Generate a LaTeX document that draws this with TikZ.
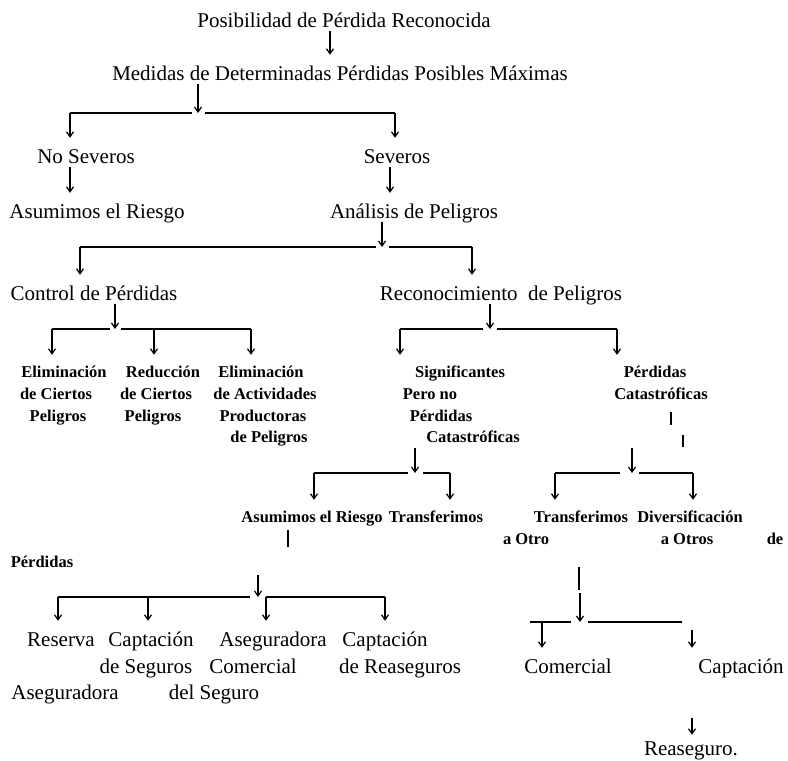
\documentclass[tikz,border=0pt]{standalone}
\usepackage{fontspec}
\setmainfont{Liberation Serif}
\usetikzlibrary{arrows.meta}
\tikzset{
	big/.style={font=\fontsize{21}{24}\selectfont,inner sep=0pt,anchor=base,text height=15pt,text depth=3pt},
	sml/.style={font=\fontsize{16.5}{19}\selectfont\bfseries,inner sep=0pt,anchor=base,text height=12pt,text depth=3pt},
	arr/.style={line width=1.2pt,-{Straight Barb[length=5pt,width=7pt]}},
	down/.style={arr,shorten <=1pt,shorten >=10pt},
	kid/.style={arr,shorten >=10pt},
	bar/.style={line width=1.5pt},
	tick/.style={line width=1.2pt}
}
\begin{document}
\begin{tikzpicture}[x=1pt,y=-1pt]
	\useasboundingbox (0,0) rectangle (788,761);

	\node[big] (tit) at (344,27) {Posibilidad de Pérdida Reconocida};
	\node[big] (med) at (340,80) {Medidas de Determinadas Pérdidas Posibles Máximas};
	\node[big] (nosev) at (86,163) {No Severos};
	\node[big] (sev) at (397,163) {Severos};
	\node[big] (asum) at (97,218) {Asumimos el Riesgo};
	\node[big] (anal) at (414,218) {Análisis de Peligros};
	\node[big] (ctrl) at (94,300) {Control de Pérdidas};
	\node[big] (recon) at (501,300) {Reconocimiento~ de Peligros};

	\node[sml] (elimA) at (64,377) {Eliminación};
	\node[sml] (ciertA) at (56,399) {de Ciertos};
	\node[sml] (pelA) at (58,421) {Peligros};
	\node[sml] (reduc) at (163,377) {Reducción};
	\node[sml] (ciertB) at (156,399) {de Ciertos};
	\node[sml] (pelB) at (153,421) {Peligros};
	\node[sml] (elimB) at (261,377) {Eliminación};
	\node[sml] (activ) at (265,399) {de Actividades};
	\node[sml] (produc) at (263,421) {Productoras};
	\node[sml] (depel) at (269,442) {de Peligros};

	\node[sml] (signif) at (460,377) {Significantes};
	\node[sml] (pero) at (430,399) {Pero no};
	\node[sml] (perdA) at (441,421) {Pérdidas};
	\node[sml] (catA) at (473,442) {Catastróficas};
	\node[sml] (perdB) at (655,377) {Pérdidas};
	\node[sml] (catB) at (661,399) {Catastróficas};

	\node[sml] (asumB) at (312,522) {Asumimos el Riesgo};
	\node[sml] (transA) at (436,522) {Transferimos};
	\node[sml] (transB) at (581,522) {Transferimos};
	\node[sml] (divers) at (690,522) {Diversificación};
	\node[sml] (aotro) at (526,544) {a Otro};
	\node[sml] (aotros) at (687,544) {a Otros};
	\node[sml] (de) at (775,544) {de};
	\node[sml] (perdC) at (42,567) {Pérdidas};

	\node[big] (reserva) at (61,646) {Reserva};
	\node[big] (captA) at (151,646) {Captación};
	\node[big] (asegA) at (273,646) {Aseguradora};
	\node[big] (captB) at (385,646) {Captación};
	\node[big] (segu) at (146,673) {de Seguros};
	\node[big] (comerA) at (253,673) {Comercial};
	\node[big] (reas) at (400,673) {de Reaseguros};
	\node[big] (asegB) at (65,699) {Aseguradora};
	\node[big] (delseg) at (214,699) {del Seguro};
	\node[big] (comerB) at (568,673) {Comercial};
	\node[big] (captC) at (741,673) {Captación};
	\node[big] (reaseg) at (691,755) {Reaseguro.};

	\coordinate (v0) at (330,0);
	\coordinate (f1) at (198,113);
	\coordinate (f1l) at (70,113);
	\coordinate (f1a) at (192,113);
	\coordinate (f1b) at (205,113);
	\coordinate (f1r) at (395,113);
	\coordinate (v2) at (390,0);
	\coordinate (f2) at (382,247);
	\coordinate (f2l) at (80,247);
	\coordinate (f2a) at (376,247);
	\coordinate (f2b) at (389,247);
	\coordinate (f2r) at (472,247);
	\coordinate (f3) at (115,329);
	\coordinate (f3l) at (52,329);
	\coordinate (f3a) at (110,329);
	\coordinate (f3b) at (121,329);
	\coordinate (f3m) at (154,329);
	\coordinate (f3r) at (251,329);
	\coordinate (f4) at (490,329);
	\coordinate (f4l) at (400,329);
	\coordinate (f4a) at (483,329);
	\coordinate (f4b) at (497,329);
	\coordinate (f4r) at (617,329);
	\coordinate (f5) at (415,473);
	\coordinate (f5l) at (314,473);
	\coordinate (f5a) at (408,473);
	\coordinate (f5b) at (423,473);
	\coordinate (f5r) at (450,473);
	\coordinate (f6s) at (632,448);
	\coordinate (f6) at (632,473);
	\coordinate (f6l) at (555,473);
	\coordinate (f6a) at (620,473);
	\coordinate (f6b) at (639,473);
	\coordinate (f6r) at (693,473);
	\coordinate (f7s) at (258,575);
	\coordinate (f7) at (258,597);
	\coordinate (f7l) at (58,597);
	\coordinate (f7m) at (148,597);
	\coordinate (f7a) at (250,597);
	\coordinate (f7b) at (266,597);
	\coordinate (f7r) at (385,597);
	\coordinate (f8s) at (580,593);
	\coordinate (f8) at (580,622);
	\coordinate (f8l) at (530,622);
	\coordinate (f8c) at (542,622);
	\coordinate (f8a) at (571,622);
	\coordinate (f8b) at (588,622);
	\coordinate (f8r) at (682,622);
	\coordinate (f8d) at (692,630);
	\coordinate (v9) at (692,718);

	\draw[down] (v0 |- tit.south) -- (v0 |- med.north);
	\draw[arr,shorten <=1pt] (f1 |- med.south) -- (f1);
	\draw[bar] (f1l) -- (f1a) (f1b) -- (f1r);
	\draw[kid] (f1l) -- (f1l |- nosev.north);
	\draw[kid] (f1r) -- (f1r |- sev.north);
	\draw[down] (f1l |- nosev.south) -- (f1l |- asum.north);
	\draw[down] (v2 |- sev.south) -- (v2 |- anal.north);

	\draw[arr,shorten <=1pt] (f2 |- anal.south) -- (f2);
	\draw[bar] (f2l) -- (f2a) (f2b) -- (f2r);
	\draw[kid] (f2l) -- (f2l |- ctrl.north);
	\draw[kid] (f2r) -- (f2r |- recon.north);

	\draw[arr,shorten <=1pt] (f3 |- ctrl.south) -- (f3);
	\draw[bar] (f3l) -- (f3a) (f3b) -- (f3r);
	\draw[kid] (f3l) -- (f3l |- elimA.north);
	\draw[kid] (f3m) -- (f3m |- reduc.north);
	\draw[kid] (f3r) -- (f3r |- elimB.north);

	\draw[arr,shorten <=1pt] (f4 |- recon.south) -- (f4);
	\draw[bar] (f4l) -- (f4a) (f4b) -- (f4r);
	\draw[kid] (f4l) -- (f4l |- signif.north);
	\draw[kid] (f4r) -- (f4r |- perdB.north);

	\draw[arr,shorten <=3pt] (f5 |- catA.south) -- (f5);
	\draw[bar] (f5l) -- (f5a) (f5b) -- (f5r);
	\draw[kid] (f5l) -- (f5l |- asumB.north);
	\draw[kid] (f5r) -- (f5r |- transA.north);

	\draw[tick] (671,412) -- (671,425);
	\draw[tick] (683,435) -- (683,447);
	\draw[arr] (f6s) -- (f6);
	\draw[bar] (f6l) -- (f6a) (f6b) -- (f6r);
	\draw[kid] (f6l) -- (f6l |- transB.north);
	\draw[kid] (f6r) -- (f6r |- divers.north);

	\draw[tick] (288,530) -- (288,547);
	\draw[arr] (f7s) -- (f7);
	\draw[bar] (f7l) -- (f7a) (f7b) -- (f7r);
	\draw[kid] (f7l) -- (f7l |- reserva.north);
	\draw[kid] (f7m) -- (f7m |- captA.north);
	\draw[kid] (f7b) -- (f7b |- asegA.north);
	\draw[kid] (f7r) -- (f7r |- captB.north);

	\draw[tick] (579,567) -- (579,590);
	\draw[arr] (f8s) -- (f8);
	\draw[bar] (f8l) -- (f8a) (f8b) -- (f8r);
	\draw[kid] (f8c) -- (f8c |- comerB.north);
	\draw[kid] (f8d) -- (f8d |- captC.north);
	\draw[arr,shorten >=5pt] (v9) -- (v9 |- reaseg.north);
\end{tikzpicture}
\end{document}
